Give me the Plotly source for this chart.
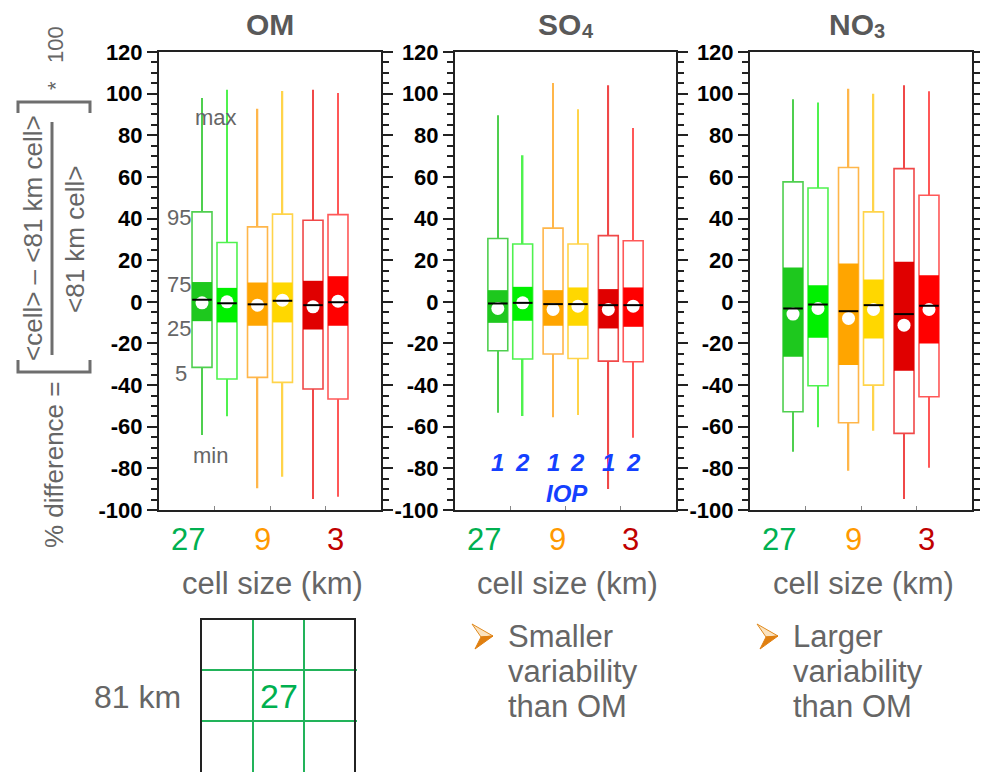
import plotly.graph_objects as go

PAGE_OFFSET = 8            # default page margin around the plot div
W, H = 988 - PAGE_OFFSET, 772 - PAGE_OFFSET

# ---------------- data ----------------
species = ["OM", "SO", "NO"]
species_sub = ["", "4", "3"]
cell_sizes = ["27", "9", "3"]
iop_labels = ["1", "2", "1", "2", "1", "2"]
box_group = [1, 1, 2, 2, 3, 3]          # cell-size group of each box
box_iop = [1, 2, 1, 2, 1, 2]            # IOP of each box

om_min = [-64.0, -55.0, -89.6, -84.0, -94.7, -93.6]
om_p5 = [-31.5, -37.1, -36.3, -38.7, -41.9, -46.7]
om_p25 = [-9.3, -9.9, -11.5, -9.9, -13.3, -11.5]
om_median = [1.0, -0.7, -1.2, 0.5, -1.6, -0.2]
om_mean = [-0.5, 0.0, -1.6, 0.8, -2.4, 0.3]
om_p75 = [9.5, 6.7, 9.3, 9.3, 10.1, 12.3]
om_p95 = [43.2, 28.5, 36.0, 42.1, 39.2, 41.9]
om_max = [97.9, 101.9, 92.8, 101.3, 101.9, 100.3]

so4_min = [-53.3, -54.9, -55.5, -54.4, -89.9, -65.3]
so4_p5 = [-23.5, -27.5, -25.1, -27.2, -28.5, -28.8]
so4_p25 = [-10.1, -9.1, -11.5, -11.5, -12.8, -12.0]
so4_median = [-0.8, -0.5, -1.1, -1.1, -1.6, -1.6]
so4_mean = [-3.2, -0.5, -3.7, -2.1, -3.7, -2.1]
so4_p75 = [5.6, 7.2, 5.6, 6.9, 6.1, 6.9]
so4_p95 = [30.4, 27.8, 35.4, 27.8, 31.8, 29.3]
so4_max = [89.6, 70.4, 105.1, 92.5, 104.0, 83.5]

no3_min = [-72.0, -60.3, -81.1, -61.9, -94.7, -79.7]
no3_p5 = [-52.8, -40.3, -58.1, -40.0, -63.2, -45.6]
no3_p25 = [-26.4, -17.3, -30.4, -17.6, -33.1, -20.0]
no3_median = [-3.2, -1.3, -4.5, -1.6, -5.9, -1.9]
no3_mean = [-5.9, -3.2, -8.0, -3.7, -11.2, -3.7]
no3_p75 = [16.5, 8.0, 18.4, 10.7, 19.2, 12.8]
no3_p95 = [57.6, 54.7, 64.5, 43.2, 64.0, 51.2]
no3_max = [97.3, 95.7, 102.4, 100.0, 104.0, 101.1]

y_ticks = [-100, -80, -60, -40, -20, 0, 20, 40, 60, 80, 100, 120]
percentile_labels = ["max", "95", "75", "25", "5", "min"]

# ---------------- styles ----------------
box_fill = ["#1ec81e", "#00f000", "#ffa500", "#ffd700", "#e00000", "#ff0000"]
box_edge = ["#4fcf4f", "#4ff24f", "#ffb64a", "#ffd44a", "#f04848", "#ff5858"]
cell_colors = ["#00b050", "#ff9900", "#c00000"]
GREY = "#666666"
FONT = "Arial, Liberation Sans, Helvetica, sans-serif"
OFF = 0.225
BW = 0.36


def fx(p):
    return (p - PAGE_OFFSET) / W


def fy(p):
    return 1 - (p - PAGE_OFFSET) / H


stats = [
    dict(mn=om_min, p5=om_p5, p25=om_p25, med=om_median, mean=om_mean, p75=om_p75, p95=om_p95, mx=om_max),
    dict(mn=so4_min, p5=so4_p5, p25=so4_p25, med=so4_median, mean=so4_mean, p75=so4_p75, p95=so4_p95, mx=so4_max),
    dict(mn=no3_min, p5=no3_p5, p25=no3_p25, med=no3_median, mean=no3_mean, p75=no3_p75, p95=no3_p95, mx=no3_max),
]

fig = go.Figure()
xs = [g + (-OFF if i == 1 else OFF) for g, i in zip(box_group, box_iop)]

for k, st in enumerate(stats):
    xa = "x" if k == 0 else f"x{k + 1}"
    ya = "y" if k == 0 else f"y{k + 1}"
    # whiskers (min-max)
    fig.add_bar(x=xs, base=st["mn"], y=[b - a for a, b in zip(st["mn"], st["mx"])],
                width=0.028, marker=dict(color=box_edge, line=dict(width=0)),
                xaxis=xa, yaxis=ya, hoverinfo="skip")
    # 5-95 box
    fig.add_bar(x=xs, base=st["p5"], y=[b - a for a, b in zip(st["p5"], st["p95"])],
                width=BW, marker=dict(color="white", line=dict(color=box_edge, width=1.6)),
                xaxis=xa, yaxis=ya, hoverinfo="skip")
    # 25-75 box
    fig.add_bar(x=xs, base=st["p25"], y=[b - a for a, b in zip(st["p25"], st["p75"])],
                width=BW, marker=dict(color=box_fill, line=dict(width=0)),
                xaxis=xa, yaxis=ya, hoverinfo="skip")
    # mean
    fig.add_scatter(x=xs, y=st["mean"], mode="markers",
                    marker=dict(color="white", size=13, line=dict(width=0)),
                    xaxis=xa, yaxis=ya, hoverinfo="skip")
    # median
    fig.add_scatter(x=xs, y=st["med"], mode="markers",
                    marker=dict(symbol="line-ew", size=14, line=dict(color="black", width=2)),
                    xaxis=xa, yaxis=ya, hoverinfo="skip")

panel_px = [(159, 381), (455, 676), (750, 972)]
ydom = [fy(510), fy(52)]

layout = dict(
    width=W, height=H, margin=dict(l=0, r=0, t=0, b=0, pad=0, autoexpand=False),
    paper_bgcolor="white", plot_bgcolor="white",
    barmode="overlay", showlegend=False,
    font=dict(family=FONT, color=GREY),
)

for k, (a, b) in enumerate(panel_px):
    sx = "" if k == 0 else str(k + 1)
    layout[f"xaxis{sx}"] = dict(
        domain=[fx(a), fx(b)], range=[0, 4], anchor=f"y{sx}",
        tickvals=[1, 2, 3], showticklabels=False, ticks="inside", ticklen=4,
        tickcolor="#888", tickwidth=1, automargin=False,
        showline=True, linecolor="#222", linewidth=2, mirror=True,
        showgrid=False, zeroline=False, fixedrange=True,
    )
    layout[f"yaxis{sx}"] = dict(
        domain=ydom, range=[-100, 120], anchor=f"x{sx}",
        tickmode="array", tickvals=y_ticks, ticktext=[str(v) for v in y_ticks],
        ticks="outside", ticklen=10, tickwidth=2, tickcolor="#222",
        minor=dict(ticks="outside", tick0=0, dtick=5, ticklen=6, tickwidth=1.5, tickcolor="#222"),
        tickfont=dict(family=FONT, size=22, color="black", weight="bold"),
        showline=True, linecolor="#222", linewidth=2, mirror="ticks", automargin=False,
        showgrid=False, zeroline=False, fixedrange=True,
    )

fig.update_layout(**layout)

ann = []
shapes = []


def note(text, x, y, size, color=GREY, xref="paper", yref="paper", angle=0, xanchor="center"):
    ann.append(dict(text=text, x=x, y=y, xref=xref, yref=yref, showarrow=False,
                    xanchor=xanchor, yanchor="middle", textangle=angle,
                    font=dict(size=size, color=color, family=FONT)))


# panel titles (main text + subscript)
title_pos = [(270, None), (559, 588), (851, 879)]
for name, sub, (cx, sx_) in zip(species, species_sub, title_pos):
    note(f"<b>{name}</b>", fx(cx), fy(25), 30, "#595959")
    if sub:
        note(f"<b>{sub}</b>", fx(sx_), fy(31), 20, "#595959")

# percentile labels in OM panel
pl_pos = [(1.03, 88.3), (0.36, 40.3), (0.36, 8.1), (0.36, -12.6), (0.40, -34.2), (0.92, -73.6)]
for t, (px_, py_) in zip(percentile_labels, pl_pos):
    note(t, px_, py_, 22, GREY, "x", "y")

# IOP labels in SO4 panel
for t, xv in zip(iop_labels, xs):
    note(f"<b><i>{t}</i></b>", xv, -77.4, 24, "#1440ff", "x2", "y2")
note("<b><i>IOP</i></b>", 2.03, -92.0, 24, "#1440ff", "x2", "y2")

# cell-size labels under each panel
lab_x = [0.52, 1.86, 3.18]
for k in range(3):
    sx = "x" if k == 0 else f"x{k + 1}"
    for t, c, xv in zip(cell_sizes, cell_colors, lab_x):
        note(t, xv, fy(539), 31, c, sx, "paper")
    note("cell size (km)", 2.04, fy(583), 31, GREY, sx, "paper")

# y-axis title (fraction)
note("% difference =", fx(54), fy(465), 26, angle=-90)
note("&lt;cell&gt; – &lt;81 km cell&gt;", fx(33), fy(238), 26, angle=-90)
note("&lt;81 km cell&gt;", fx(75), fy(240), 26, angle=-90)
note("100", fx(55), fy(45), 22, angle=-90)
note("*", fx(55), fy(86), 22, angle=-90)

line_grey = dict(color="#6e6e6e", width=3)


def path(points):
    return "M " + " L ".join(f"{fx(a):.5f},{fy(b):.5f}" for a, b in points)


shapes.append(dict(type="path", path=path([(18, 113), (18, 102), (90, 102), (90, 113)]),
                   xref="paper", yref="paper", line=line_grey))
shapes.append(dict(type="path", path=path([(18, 360), (18, 372), (90, 372), (90, 360)]),
                   xref="paper", yref="paper", line=line_grey))
shapes.append(dict(type="line", x0=fx(52), x1=fx(52), y0=fy(122), y1=fy(355),
                   xref="paper", yref="paper", line=line_grey))

# 81 km grid sketch
g_green = dict(color="#22b35a", width=2)
for xv in (253, 304):
    shapes.append(dict(type="line", x0=fx(xv), x1=fx(xv), y0=fy(619), y1=0,
                       xref="paper", yref="paper", line=g_green))
for yv in (670, 721):
    shapes.append(dict(type="line", x0=fx(201), x1=fx(357), y0=fy(yv), y1=fy(yv),
                       xref="paper", yref="paper", line=g_green))
shapes.append(dict(type="path", path=path([(201, 780), (201, 619), (355, 619), (355, 780)]),
                   xref="paper", yref="paper", line=dict(color="#222", width=2)))
note("27", fx(279), fy(696), 34, "#00b050")
note("81 km", fx(137), fy(697), 32, GREY)

# bullet arrows and notes
for ax0, tx, lines in [(472, 506, ["Smaller", "variability", "than OM"]),
                       (757, 791, ["Larger", "variability", "than OM"])]:
    up = [(ax0, 624), (ax0 + 21, 636), (ax0 + 9, 637), (ax0, 624)]
    lo = [(ax0 + 9, 637), (ax0 + 21, 636), (ax0 + 3, 649), (ax0 + 9, 637)]
    shapes.append(dict(type="path", path=path(up) + " Z", xref="paper", yref="paper",
                       fillcolor="#fbe3c0", line=dict(color="#e08a1e", width=1)))
    shapes.append(dict(type="path", path=path(lo) + " Z", xref="paper", yref="paper",
                       fillcolor="#e07f10", line=dict(color="#e07f10", width=1)))
    for t, yv in zip(lines, [636, 671, 706]):
        note(t, fx(tx), fy(yv), 31, GREY, xanchor="left")

fig.update_layout(annotations=ann, shapes=shapes)
fig.write_html("out.html")
